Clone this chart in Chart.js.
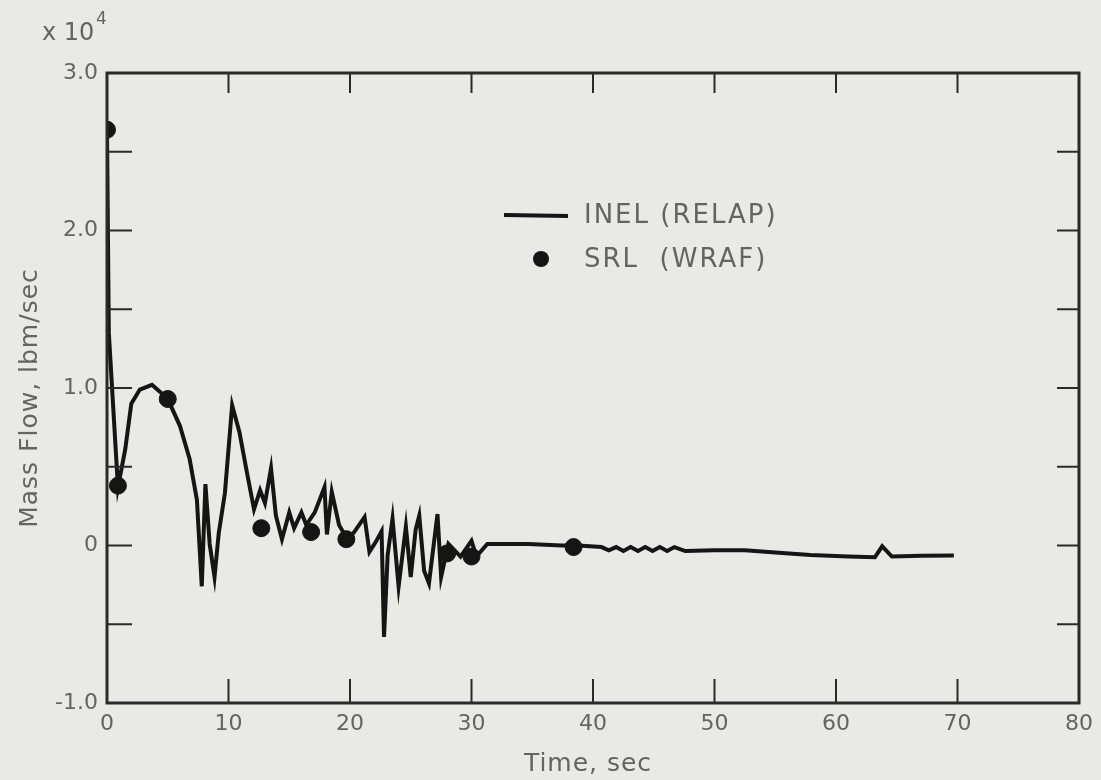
<!DOCTYPE html>
<html>
<head>
<meta charset="utf-8">
<script src="https://cdn.jsdelivr.net/npm/chart.js@4"></script>
<style>
  body { margin: 0; background: #e9e9e6; }
  #wrap { width: 1101px; height: 780px; }
</style>
</head>
<body>
<div id="wrap"><canvas id="myChart" width="1101" height="780"></canvas></div>
<script>
// INEL (RELAP) Kurve: Zeit in sec, Massenstrom in 10^4 lbm/sec
const relapTime = [0, 0.15, 0.9, 1.5, 2.0, 2.7, 3.7, 4.3, 5.0, 6.0, 6.8, 7.4, 7.8, 8.1, 8.45, 8.85, 9.2, 9.7, 10.3, 10.9, 11.5,
  12.1, 12.6, 13.0, 13.5, 13.9, 14.4, 15.0, 15.4, 16.0, 16.4, 17.1, 17.9, 18.1, 18.5, 19.1, 19.7, 20.3, 21.2, 21.6, 22.1, 22.6,
  22.8, 23.1, 23.5, 24.0, 24.6, 25.0, 25.4, 25.7, 26.1, 26.5, 27.2, 27.5, 28.1, 29.1, 30.0, 30.4, 31.3, 34.7, 37.4, 38.8, 40.7,
  41.3, 41.9, 42.5, 43.1, 43.7, 44.3, 44.9, 45.5, 46.1, 46.7, 47.6, 50.0, 52.5, 55.0, 57.9, 61.0, 63.2, 63.8, 64.6, 67.0, 69.7];
const relapFlow = [2.64, 1.35, 0.37, 0.61, 0.90, 0.99, 1.02, 0.98, 0.93, 0.76, 0.55, 0.29, -0.26, 0.39, 0.01, -0.20, 0.08, 0.33, 0.89, 0.72, 0.47,
  0.23, 0.35, 0.27, 0.49, 0.19, 0.04, 0.21, 0.11, 0.21, 0.13, 0.21, 0.37, 0.07, 0.34, 0.13, 0.05, 0.08, 0.18, -0.04, 0.02, 0.09,
  -0.58, -0.06, 0.17, -0.26, 0.12, -0.20, 0.10, 0.19, -0.16, -0.24, 0.20, -0.20, 0.01, -0.07, 0.03, -0.07, 0.01, 0.01, 0.0, 0.0, -0.01,
  -0.03, -0.01, -0.035, -0.01, -0.035, -0.01, -0.035, -0.01, -0.035, -0.01, -0.035, -0.03, -0.03, -0.045, -0.06, -0.07, -0.075, -0.005, -0.07, -0.065, -0.063];

// SRL (WRAF) Punkte
const wrapTime = [0, 0.9, 5.0, 12.7, 16.8, 19.7, 28.0, 30.0, 38.4];
const wrapFlow = [2.64, 0.38, 0.93, 0.11, 0.085, 0.04, -0.05, -0.07, -0.01];

// Achsen
const xTicks = [0, 10, 20, 30, 40, 50, 60, 70, 80];
const yTicks = [-1.0, -0.5, 0, 0.5, 1.0, 1.5, 2.0, 2.5, 3.0];
const yLabels = { "3": "3.0", "2": "2.0", "1": "1.0", "0": "0", "-1": "-1.0" };

const ink = "#151515";
const textGray = "#646464";
const labelFont = "'DejaVu Sans', sans-serif";

// Rahmen, Striche, Legende und Texte
const decor = {
  id: "decor",
  afterDraw(chart) {
    const ctx = chart.ctx;
    const a = chart.chartArea;
    const xs = chart.scales.x, ys = chart.scales.y;
    ctx.save();
    ctx.strokeStyle = "#2a2a2a";
    ctx.lineWidth = 3;
    ctx.strokeRect(a.left, a.top, a.right - a.left, a.bottom - a.top);

    ctx.lineWidth = 2;
    xTicks.forEach(v => {
      const px = xs.getPixelForValue(v);
      ctx.beginPath();
      ctx.moveTo(px, a.bottom); ctx.lineTo(px, a.bottom - 24);
      ctx.moveTo(px, a.top); ctx.lineTo(px, a.top + 20);
      ctx.stroke();
    });
    yTicks.forEach(v => {
      const py = ys.getPixelForValue(v);
      ctx.beginPath();
      ctx.moveTo(a.left, py); ctx.lineTo(a.left + 25, py);
      ctx.moveTo(a.right, py); ctx.lineTo(a.right - 22, py);
      ctx.stroke();
    });

    // Legende
    ctx.strokeStyle = ink;
    ctx.lineWidth = 4;
    ctx.beginPath();
    ctx.moveTo(504, 215); ctx.lineTo(568, 216);
    ctx.stroke();
    ctx.fillStyle = ink;
    ctx.beginPath();
    ctx.arc(541, 259, 8, 0, Math.PI * 2);
    ctx.fill();

    ctx.fillStyle = textGray;
    ctx.font = "26px " + labelFont;
    ctx.letterSpacing = "2px";
    ctx.textBaseline = "middle";
    ctx.textAlign = "left";
    ctx.fillText(chart.data.datasets[0].label, 584, 216);
    ctx.fillText(chart.data.datasets[1].label, 584, 260);

    // Achsentitel
    ctx.letterSpacing = "1px";
    ctx.font = "25px " + labelFont;
    ctx.textAlign = "center";
    ctx.fillText("Time, sec", 588, 764);
    ctx.save();
    ctx.translate(30, 398);
    ctx.rotate(-Math.PI / 2);
    ctx.fillText("Mass Flow, lbm/sec", 0, 0);
    ctx.restore();

    // Faktor x 10^4
    ctx.letterSpacing = "0px";
    ctx.textAlign = "left";
    ctx.font = "24px " + labelFont;
    ctx.fillText("x 10", 42, 34);
    ctx.font = "17px " + labelFont;
    ctx.fillText("4", 96, 20);
    ctx.restore();
  }
};

new Chart(document.getElementById("myChart").getContext("2d"), {
  type: "scatter",
  data: {
    datasets: [
      {
        label: "INEL (RELAP)",
        data: relapTime.map((t, i) => ({ x: t, y: relapFlow[i] })),
        showLine: true,
        borderColor: ink,
        borderWidth: 4,
        pointRadius: 0,
        tension: 0,
        order: 2
      },
      {
        label: "SRL  (WRAF)",
        data: wrapTime.map((t, i) => ({ x: t, y: wrapFlow[i] })),
        backgroundColor: ink,
        borderColor: ink,
        pointRadius: 8.5,
        order: 1
      }
    ]
  },
  options: {
    responsive: false,
    animation: false,
    layout: { padding: { top: 73, right: 19, left: 0, bottom: 0 } },
    plugins: { legend: { display: false }, tooltip: { enabled: false } },
    scales: {
      x: {
        type: "linear",
        min: 0, max: 80,
        afterBuildTicks: s => { s.ticks = xTicks.map(v => ({ value: v })); },
        grid: { display: false, drawTicks: false },
        border: { display: false },
        ticks: { color: textGray, font: { family: labelFont, size: 22 }, padding: 8, maxRotation: 0 },
        afterFit: s => { s.height = 77; }
      },
      y: {
        min: -1, max: 3,
        afterBuildTicks: s => { s.ticks = yTicks.map(v => ({ value: v })); },
        grid: { display: false, drawTicks: false },
        border: { display: false },
        ticks: {
          color: textGray, font: { family: labelFont, size: 22 }, padding: 9, autoSkip: false,
          callback: v => yLabels[String(v)] || ""
        },
        afterFit: s => { s.width = 107; }
      }
    }
  },
  plugins: [decor]
});
</script>
</body>
</html>
